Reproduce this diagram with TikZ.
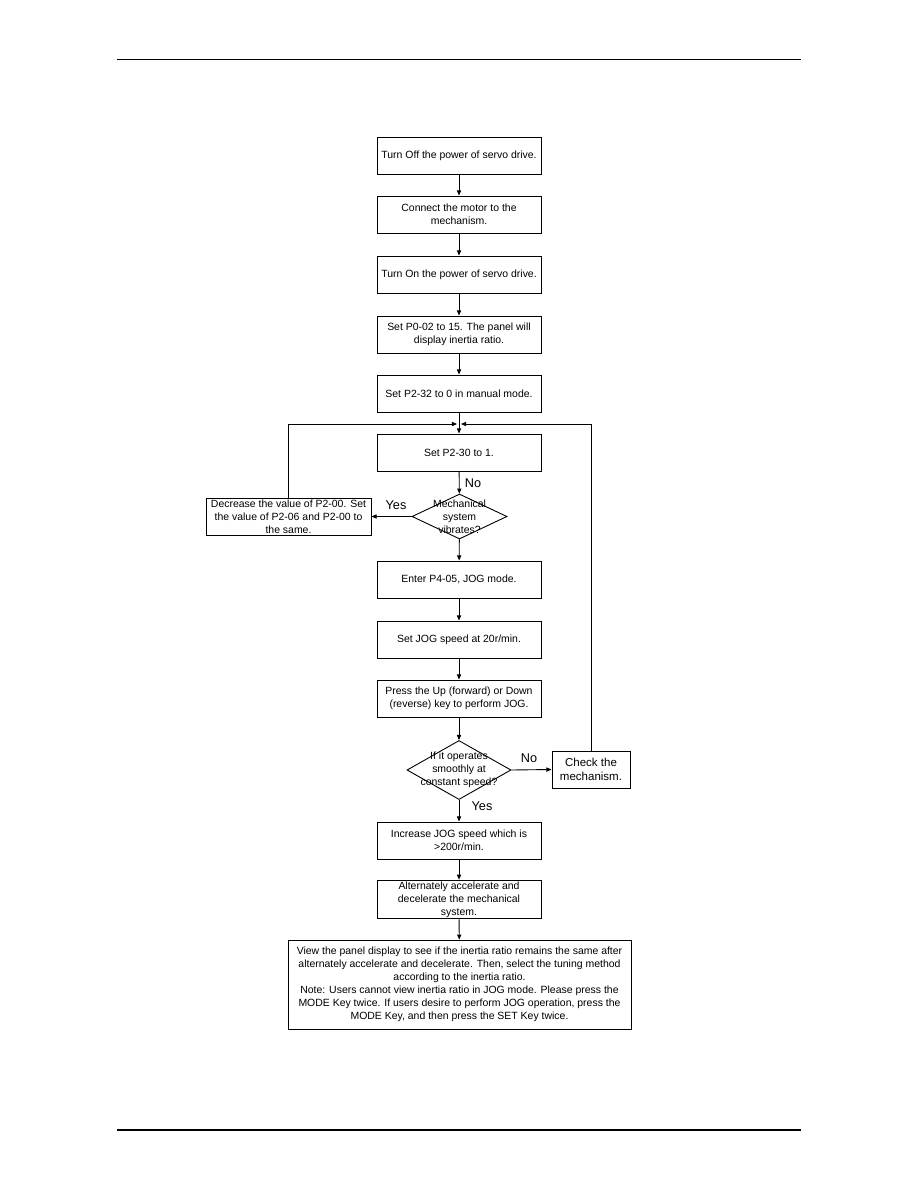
\documentclass[tikz,border=0pt]{standalone}
\usepackage{fontspec}
\setmainfont{Liberation Sans}
\usetikzlibrary{arrows.meta,shapes.geometric}

\tikzset{
  box/.style={draw, line width=0.6pt, minimum width=109.7pt, minimum height=24.8pt,
    inner sep=1pt, align=center, font=\fontsize{7}{8.7}\selectfont},
  dia/.style={draw, line width=0.6pt, diamond, inner sep=0pt},
  diatext/.style={align=center, inner sep=0pt, font=\fontsize{7}{8.7}\selectfont},
  lbl/.style={inner sep=0pt, font=\fontsize{8.5}{10}\selectfont},
  arr/.style={line width=0.6pt, -{Triangle[length=3.4pt,width=2.8pt]}},
}

\begin{document}
\begin{tikzpicture}[x=0.669pt,y=-0.669pt]
  \useasboundingbox (0,0) rectangle (918,1188);
  % page rules
  \draw[line width=0.8pt] (117,59.3) -- (801,59.3);
  \draw[line width=0.8pt] (117,1130) -- (801,1130);
  % main column
  \node[box] (b1) at (459,155.5) {Turn Off the power of servo drive.};
  \node[box] (b2) at (459,214.5) {Connect the motor to the\\mechanism.};
  \node[box] (b3) at (459,274.5) {Turn On the power of servo drive.};
  \node[box] (b4) at (459,334.5) {Set P0-02 to 15. The panel will\\display inertia ratio.};
  \node[box] (b5) at (459,393.5) {Set P2-32 to 0 in manual mode.};
  \node[box] (b6) at (459,452.5) {Set P2-30 to 1.};
  \node[dia, minimum width=63.6pt, minimum height=30.1pt] (d1) at (459.5,516.5) {};
  \node[diatext] (d1t) at (d1) {Mechanical\\system\\vibrates?};
  \node[box, minimum width=110.4pt] (dec) at (288.5,516.5) {Decrease the value of P2-00. Set\\the value of P2-06 and P2-00 to\\the same.};
  \node[box] (b7) at (459,579.5) {Enter P4-05, JOG mode.};
  \node[box] (b8) at (459,639.5) {Set JOG speed at 20r/min.};
  \node[box] (b9) at (459,698.5) {Press the Up (forward) or Down\\(reverse) key to perform JOG.};
  \node[dia, minimum width=69.6pt, minimum height=39.5pt] (d2) at (459,770) {};
  \node[diatext] (d2t) at (d2) {If it operates\\smoothly at\\constant speed?};
  \node[box, minimum width=52.2pt, font=\fontsize{7.7}{9.4}\selectfont] (chk) at (591,769.5) {Check the\\mechanism.};
  \node[box] (b10) at (459,840.5) {Increase JOG speed which is\\>200r/min.};
  \node[box] (b11) at (459,899.5) {Alternately accelerate and\\decelerate the mechanical\\system.};
  \node[box, minimum width=229.5pt, minimum height=59.5pt] (b12) at (459.5,984.5)
    {View the panel display to see if the inertia ratio remains the same after\\
     alternately accelerate and decelerate. Then, select the tuning method\\
     according to the inertia ratio.\\
     Note: Users cannot view inertia ratio in JOG mode. Please press the\\
     MODE Key twice. If users desire to perform JOG operation, press the\\
     MODE Key, and then press the SET Key twice.};
  % labels
  \node[lbl] (lno1) at (473,483) {No};
  \node[lbl] (lyes1) at (396,505) {Yes};
  \node[lbl] (lno2) at (529,758) {No};
  \node[lbl] (lyes2) at (482,806) {Yes};
  % merge points
  \coordinate (mgL) at (457,424);
  \coordinate (mgR) at (461,424);
  % connectors
  \foreach \a/\b in {b1/b2,b2/b3,b3/b4,b4/b5,b5/b6,b6/d1,d1/b7,b7/b8,b8/b9,b9/d2,d2/b10,b10/b11,b11/b12}
    \draw[arr] (\a) -- (\b);
  \draw[arr] (d1.west) -- (dec.east);
  \draw[arr] (d2.east) -- (chk.west);
  \draw[arr] (dec.north) |- (mgL);
  \draw[arr] (chk.north) |- (mgR);
\end{tikzpicture}
\end{document}
